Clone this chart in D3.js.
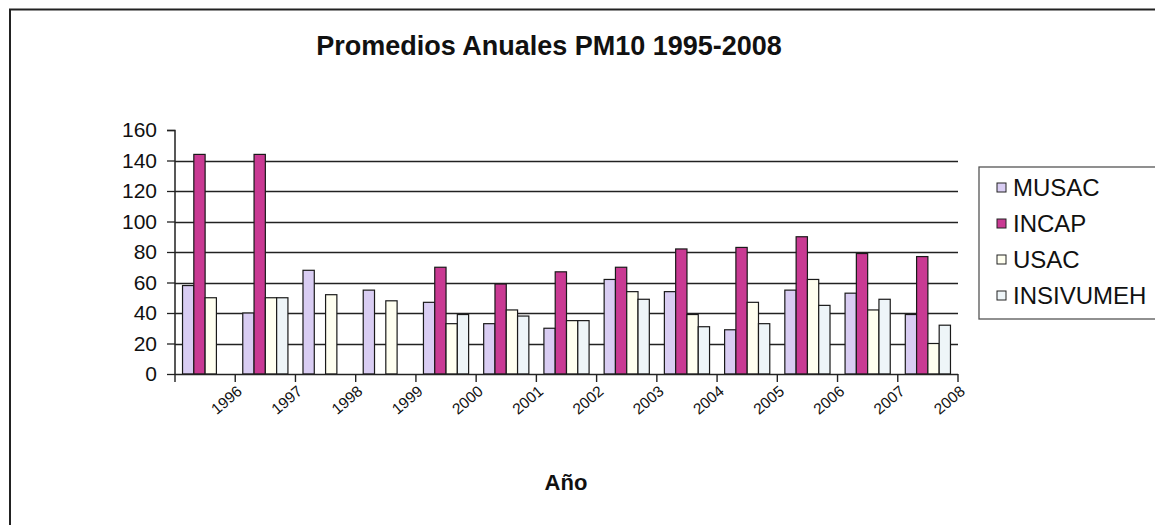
<!DOCTYPE html>
<html>
<head>
<meta charset="utf-8">
<script src="https://cdn.jsdelivr.net/npm/d3@7"></script>
<style>
  body { margin: 0; background: #fff; }
  text { font-family: "Liberation Sans", Arial, sans-serif; fill: #111; }
  .grid line { stroke: #222; stroke-width: 1.3; }
</style>
</head>
<body>
<div id="chart"></div>
<script>
// anios (etiquetas del eje x)
var years = ['1996', '1997', '1998', '1999', '2000', '2001', '2002', '2003', '2004', '2005', '2006', '2007', '2008']

var seriesNames = ['MUSAC', 'INCAP', 'USAC', 'INSIVUMEH']

var musac     = [58, 40, 68, 55, 47, 33, 30, 62, 54, 29, 55, 53, 39]
var incap     = [144, 144, null, null, 70, 59, 67, 70, 82, 83, 90, 79, 77]
var usac      = [50, 50, 52, 48, 33, 42, 35, 54, 39, 47, 62, 42, 20]
var insivumeh = [null, 50, null, null, 39, 38, 35, 49, 31, 33, 45, 49, 32]

var yTicks = [0, 20, 40, 60, 80, 100, 120, 140, 160]

var colors = ['#d9cdf3', '#c93a93', '#fffff0', '#eef5f8']

var seriesValues = [musac, incap, usac, insivumeh]

var rows = years.map(function(y, i){
  var r = {year: y}
  seriesNames.forEach(function(s, j){ r[s] = seriesValues[j][i] })
  return r
})

var W = 1155, H = 525
var svg = d3.select('#chart').append('svg').attr('width', W).attr('height', H)

// marco
svg.append('path')
  .attr('d', 'M10,' + (H + 5) + ' L10,9.5 L' + (W + 5) + ',9.5')
  .attr('fill', 'none').attr('stroke', '#222').attr('stroke-width', 2)

var x = d3.scaleBand().domain(years).range([175, 958]).paddingInner(0.25).paddingOuter(0.125)
var xs = d3.scaleBand().domain(seriesNames).range([0, x.bandwidth()])
var y = d3.scaleLinear().domain([0, 160]).range([374, 130])

// lineas de division
svg.append('g').attr('class', 'grid')
  .selectAll('line').data(yTicks.filter(function(d){ return d > 0 && d < 160 }))
  .join('line')
  .attr('x1', 175).attr('x2', 958)
  .attr('y1', function(d){ return Math.round(y(d)) + 0.5 })
  .attr('y2', function(d){ return Math.round(y(d)) + 0.5 })

// barras
var groups = svg.append('g').selectAll('g').data(rows).join('g')
  .attr('transform', function(d){ return 'translate(' + x(d.year) + ',0)' })

groups.selectAll('rect')
  .data(function(d){ return seriesNames.map(function(s, j){ return {key: s, j: j, v: d[s]} }).filter(function(e){ return e.v != null }) })
  .join('rect')
  .attr('x', function(d){ return xs(d.key) })
  .attr('width', xs.bandwidth())
  .attr('y', function(d){ return y(d.v) })
  .attr('height', function(d){ return y(0) - y(d.v) })
  .attr('fill', function(d){ return colors[d.j] })
  .attr('stroke', '#1a1a1a').attr('stroke-width', 1.2)

// eje y
var yAxis = d3.axisLeft(y).tickValues(yTicks).tickSize(8).tickPadding(10)
var gy = svg.append('g').attr('transform', 'translate(175,0)').call(yAxis)
gy.select('.domain').attr('stroke', '#222').attr('stroke-width', 1.5).attr('d', 'M-8,130.5H0V374')
gy.selectAll('.tick line').attr('stroke', '#222').attr('stroke-width', 1.3)
gy.selectAll('.tick text').attr('font-size', 21).attr('fill', '#111')
  .style('font-family', '"Liberation Sans", Arial, sans-serif')

// eje x: marcas entre categorias
var step = x.step()
var edges = [175].concat(years.map(function(d){ return x(d) - x.paddingInner() * step / 2 + step }))
svg.append('line').attr('x1', 175).attr('x2', 958).attr('y1', 374.5).attr('y2', 374.5)
  .attr('stroke', '#222').attr('stroke-width', 1.5)
svg.append('g').selectAll('line').data(edges).join('line')
  .attr('x1', function(d){ return d }).attr('x2', function(d){ return d })
  .attr('y1', 374).attr('y2', 382)
  .attr('stroke', '#222').attr('stroke-width', 1.4)

svg.append('g').selectAll('text').data(years).join('text')
  .attr('transform', function(d){
    var tx = x(d) - x.paddingInner() * step / 2 + step + 8
    return 'translate(' + tx + ',393) rotate(-40)'
  })
  .attr('text-anchor', 'end')
  .attr('font-size', 15.5)
  .text(function(d){ return d })

// titulos
svg.append('text').attr('x', 549).attr('y', 55).attr('text-anchor', 'middle')
  .attr('font-size', 27).attr('font-weight', 'bold').text('Promedios Anuales PM10 1995-2008')

svg.append('text').attr('x', 566).attr('y', 490).attr('text-anchor', 'middle')
  .attr('font-size', 22).attr('font-weight', 'bold').text('Año')

// leyenda
var lg = svg.append('g').attr('transform', 'translate(979,167)')
lg.append('rect').attr('x', 0).attr('y', 0).attr('width', 200).attr('height', 152)
  .attr('fill', '#fff').attr('stroke', '#555').attr('stroke-width', 1.3)
var li = lg.selectAll('g').data(seriesNames).join('g')
  .attr('transform', function(d, i){ return 'translate(0,' + (20 + i * 36) + ')' })
li.append('rect').attr('x', 18).attr('y', -4).attr('width', 9).attr('height', 9)
  .attr('fill', function(d, i){ return colors[i] }).attr('stroke', '#222').attr('stroke-width', 1)
li.append('text').attr('x', 34).attr('y', 8.5).attr('font-size', 24).text(function(d){ return d })
</script>
</body>
</html>
